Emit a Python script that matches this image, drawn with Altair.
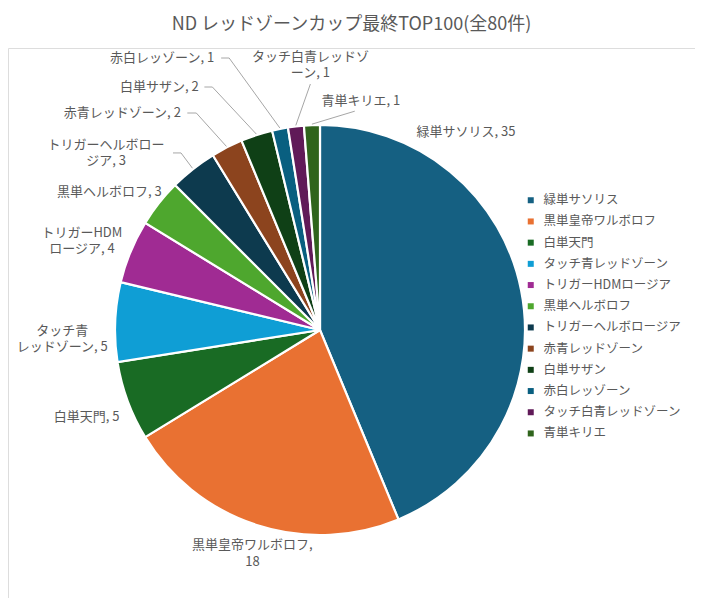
import math
import altair as alt
import pandas as pd

# ---------------- data ----------------
categories = ["緑単サソリス", "黒単皇帝ワルボロフ", "白単天門", "タッチ青レッドゾーン",
              "トリガーHDMロージア", "黒単ヘルボロフ", "トリガーヘルボロージア", "赤青レッドゾーン",
              "白単サザン", "赤白レッゾーン", "タッチ白青レッドゾーン", "青単キリエ"]
counts = [35, 18, 5, 5, 4, 3, 3, 2, 2, 1, 1, 1]
title_text = "ND レッドゾーンカップ最終TOP100(全80件)"

# ---------------- style / layout ----------------
colors = ["#156082", "#E97132", "#196B24", "#0F9ED5", "#A02B93", "#4EA72E",
          "#0D3A4E", "#8C441E", "#0F4016", "#095F80", "#601A58", "#2F641C"]
FONT = "Noto Sans CJK JP"
GRAY = "#595959"
CX, CY, R = 312, 282, 205        # pie centre (view px) and radius
LABEL_R = 235
LINE_H = 16.5
# where each label line-wraps (character index in "name, value")
wrap_at = {1: 10, 3: 4, 4: 7, 6: 9, 10: 9}
# label nudges from the polar anchor (dx, dy)
nudge = {0: (-84.5, -152), 1: (5, 0), 2: (-13, 5.4), 3: (-23, 18), 4: (-21, 1),
         5: (-26, 7), 6: (-68.5, 7.5), 7: (-91, -7.6), 8: (-88, -19.5),
         9: (-112, -41.5), 10: (18, -31.6), 11: (50, 6)}
# leader line: offset of the label-side end from label centre, elbow length
leader = {6: (67, 0, 8), 7: (65, 0, 9), 8: (45, 0, 8), 9: (59, 0, 8),
          10: (0, 19, 0), 11: (-6, 10, 0)}

total = sum(counts)
arc_df = pd.DataFrame({"category": categories, "count": counts, "idx": range(len(counts))})

label_rows, leader_rows = [], []
cum = 0
for i, (c, v) in enumerate(zip(categories, counts)):
    mid = 2 * math.pi * (cum + v / 2) / total
    cum += v
    px = CX + LABEL_R * math.sin(mid)
    py = CY - LABEL_R * math.cos(mid)
    dx, dy = nudge[i]
    lx, ly = px + dx, py + dy
    txt = f"{c}, {v}"
    nlines = 1
    if i in wrap_at:
        k = wrap_at[i]
        txt = txt[:k].rstrip() + "\n" + txt[k:].lstrip()
        nlines = 2
    label_rows.append({"text": txt, "x": lx, "y": ly - (nlines - 1) * LINE_H / 2})
    if i in leader:
        ox, oy, el = leader[i]
        ex, ey = lx + ox, ly + oy
        sx = CX + (R + 1) * math.sin(mid)
        sy = CY - (R + 1) * math.cos(mid)
        pts = [(ex, ey)]
        if el:
            pts.append((ex + el, ey))
        pts.append((sx, sy))
        for s, (xx, yy) in enumerate(pts):
            leader_rows.append({"category": c, "seq": s, "x": xx, "y": yy})

label_df = pd.DataFrame(label_rows)
leader_df = pd.DataFrame(leader_rows)

pie = alt.Chart(arc_df).mark_arc(outerRadius=R, stroke="white", strokeWidth=2.2).encode(
    theta=alt.Theta("count:Q", stack=True),
    order=alt.Order("idx:Q"),
    color=alt.Color("category:N", sort=categories,
                    scale=alt.Scale(domain=categories, range=colors),
                    legend=alt.Legend(title=None, orient="none", legendX=516.5, legendY=146,
                                      symbolType="square", symbolSize=36, symbolStrokeWidth=0,
                                      labelFont=FONT, labelFontSize=12.5, labelColor=GRAY,
                                      labelOffset=6.5, rowPadding=8.2, padding=0,
                                      labelLimit=300)),
    x=alt.value(CX), y=alt.value(CY),
)

lines = alt.Chart(leader_df).mark_line(color="#A6A6A6", strokeWidth=1).encode(
    x=alt.X("x:Q", scale=None), y=alt.Y("y:Q", scale=None),
    detail="category:N", order="seq:Q",
)

labels = alt.Chart(label_df).mark_text(font=FONT, fontSize=13, color=GRAY, align="center",
                                       baseline="middle", lineBreak="\n", lineHeight=LINE_H).encode(
    x=alt.X("x:Q", scale=None), y=alt.Y("y:Q", scale=None), text="text:N",
)

chart = alt.layer(pie, lines, labels).properties(
    width=687, height=550,
    padding={"top": 40, "left": 0, "right": 0, "bottom": 0},
    autosize=alt.AutoSizeParams(type="none"),
    title=alt.TitleParams(title_text, font=FONT, fontSize=18, fontWeight="normal",
                          color=GRAY, anchor="middle", offset=14),
).configure_view(strokeWidth=0).configure(background="white")

chart.save("out.html", embed_options={"renderer": "svg", "actions": False})
